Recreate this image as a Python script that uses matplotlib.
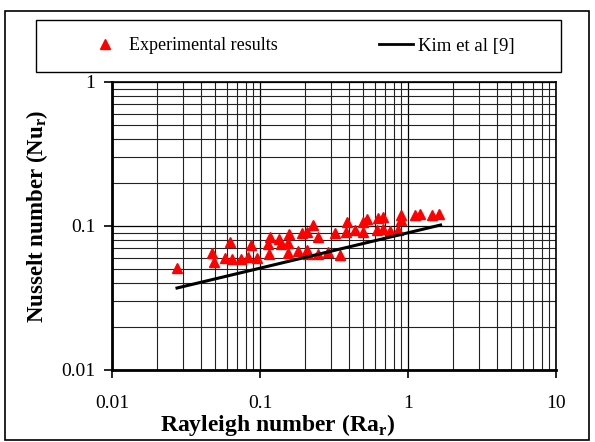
import matplotlib
matplotlib.use("Agg")
import matplotlib.pyplot as plt
from matplotlib.patches import Rectangle
from matplotlib.lines import Line2D
from matplotlib.ticker import LogLocator, FixedLocator, NullFormatter

plt.rcParams['font.family'] = ['Liberation Serif', 'DejaVu Serif']
plt.rcParams['mathtext.fontset'] = 'custom'
plt.rcParams['mathtext.rm'] = 'Liberation Serif'
plt.rcParams['mathtext.bf'] = 'Liberation Serif:bold'

# Experimental results (Rayleigh number, Nusselt number)
exp_ra = [0.0274, 0.0472, 0.0491, 0.0627, 0.0580, 0.0644, 0.0744, 0.0834, 0.0865, 0.0959,
          0.117, 0.114, 0.1156, 0.135, 0.1386, 0.155, 0.158, 0.155, 0.1815, 0.1914,
          0.209, 0.227, 0.207, 0.211, 0.248, 0.246, 0.289, 0.321, 0.347, 0.387,
          0.384, 0.438, 0.497, 0.528, 0.493, 0.615, 0.630, 0.681, 0.678, 0.756,
          0.860, 0.897, 0.900, 1.115, 1.196, 1.446, 1.62]
exp_nu = [0.0508, 0.0653, 0.0565, 0.0778, 0.0603, 0.0590, 0.0590, 0.0612, 0.0738, 0.0597,
          0.0843, 0.0750, 0.0639, 0.0809, 0.0750, 0.0758, 0.0876, 0.0653, 0.0674, 0.0890,
          0.0913, 0.1016, 0.0681, 0.0639, 0.0843, 0.0639, 0.0660, 0.0899, 0.0632, 0.107,
          0.0913, 0.0938, 0.107, 0.111, 0.0913, 0.0938, 0.114, 0.115, 0.0948, 0.0919,
          0.0938, 0.119, 0.1106, 0.119, 0.121, 0.119, 0.1217]

# Kim et al [9] correlation line
kim_ra = [0.0275, 1.66]
kim_nu = [0.0371, 0.1016]

x_ticks = [0.01, 0.1, 1, 10]
x_tick_labels = ['0.01', '0.1', '1', '10']
y_ticks = [0.01, 0.1, 1]
y_tick_labels = ['0.01', '0.1', '1']

W, H = 595, 442
fig = plt.figure(figsize=(W / 100, H / 100), dpi=100)
ax = fig.add_axes([112 / W, 1 - 370 / H, 444 / W, 288 / H])

ax.set_xscale('log')
ax.set_yscale('log')
ax.set_xlim(0.01, 10)
ax.set_ylim(0.01, 1)

ax.plot(exp_ra, exp_nu, linestyle='none', marker='^', color='red', ms=7, mec='red', zorder=3)
ax.plot(kim_ra, kim_nu, color='black', lw=2.2, zorder=4)

ax.xaxis.set_major_locator(FixedLocator(x_ticks))
ax.set_xticklabels(x_tick_labels)
ax.yaxis.set_major_locator(FixedLocator(y_ticks))
ax.set_yticklabels(y_tick_labels)
ax.xaxis.set_minor_locator(LogLocator(base=10, subs=range(2, 10)))
ax.yaxis.set_minor_locator(LogLocator(base=10, subs=range(2, 10)))
ax.xaxis.set_minor_formatter(NullFormatter())
ax.yaxis.set_minor_formatter(NullFormatter())

ax.grid(True, which='major', color='black', lw=0.9)
ax.grid(True, which='minor', color='#222222', lw=0.8)
ax.set_axisbelow(True)

ax.tick_params(which='major', direction='out', length=6, width=1.2, labelsize=14, pad=12)
ax.tick_params(axis='y', which='major', pad=6)
ax.tick_params(which='minor', length=0)
for s in ax.spines.values():
    s.set_linewidth(1.2)
    s.set_color('black')
ax.spines['left'].set_linewidth(2)
ax.spines['bottom'].set_linewidth(2)

ax.set_xlabel(r'Rayleigh number (Ra$_\mathbf{r}$)', fontsize=17, fontweight='bold')
ax.xaxis.set_label_coords((278 - 112) / 444, (370 - 412) / 288)
ax.set_ylabel(r'Nusselt number (Nu$_\mathbf{r}$)', fontsize=16.5, fontweight='bold')
ax.yaxis.set_label_coords((50 - 112) / 444, (370 - 216) / 288)

# outer frame
fig.patches.append(Rectangle((5 / W, 1 - 440 / H), 584 / W, 429 / H, transform=fig.transFigure,
                             fill=False, edgecolor='black', lw=1.2))
# legend frame
fig.patches.append(Rectangle((36 / W, 1 - 72 / H), 525 / W, 52 / H, transform=fig.transFigure,
                             fill=False, edgecolor='black', lw=1.0))

h1 = Line2D([], [], linestyle='none', marker='^', color='red', ms=7)
h2 = Line2D([], [], color='black', lw=2)
fig.legend([h1], ['Experimental results'], loc='center left',
           bbox_to_anchor=(94 / W, 1 - 46 / H), frameon=False, fontsize=13,
           handlelength=1.2, handletextpad=0.75, borderpad=0, borderaxespad=0)
fig.legend([h2], ['Kim et al [9]'], loc='center left',
           bbox_to_anchor=(379 / W, 1 - 46 / H), frameon=False, fontsize=13.5,
           handlelength=1.8, handletextpad=0.3, borderpad=0, borderaxespad=0)

fig.savefig('out.png', dpi=100)
